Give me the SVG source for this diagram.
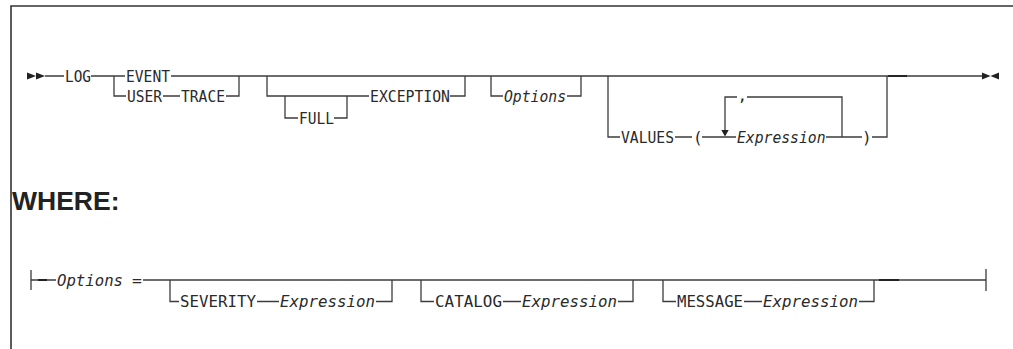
<svg xmlns="http://www.w3.org/2000/svg" width="1013" height="349" viewBox="0 0 1013 349">
<style>
.ln{stroke:#3c3c3c;stroke-width:1.3;fill:none}
.tk{stroke:#222;stroke-width:1.9;fill:none}
.ar{fill:#222;stroke:none}
.t{font-family:"DejaVu Sans Mono",monospace;font-size:16px;fill:#2a2a2a}
.t2{font-family:"DejaVu Sans Mono",monospace;font-size:16.5px;fill:#2a2a2a}
.i{font-style:italic}
.h{font-family:"Liberation Sans",Arial,sans-serif;font-weight:bold;font-size:26.5px;fill:#222}
</style>
<rect width="1013" height="349" fill="#fff"/>
<path d="M11,349 V6 H1013" fill="none" stroke="#333" stroke-width="1.6"/>
<g id="connectors">
  <polygon class="ar" points="27,72.5 36,76 27,79.5"/>
  <polygon class="ar" points="36,72.5 45,76 36,79.5"/>
  <path class="ln" d="M45,76 H64 M91,76 H125 M171,76 H982"/>
  <path class="ln" d="M114,76 V96 H126 M163,96 H180 M226,96 H239 V76"/>
  <path class="ln" d="M267,76 V96 H369 M285,96 V118 H298 M334,118 H347 V96 M450,96 H465 V76"/>
  <path class="ln" d="M491,76 V96 H503 M567,96 H581 V76"/>
  <path class="ln" d="M608,76 V137 H620 M675,137 H692 M702,137 H736 M826,137 H862 M872,137 H887 V76"/>
  <path class="ln" d="M725,130 V97 H737 M747,97 H842 V137"/>
  <polygon class="ar" points="721.3,130 728.7,130 725,136.5"/>
  <path class="tk" d="M888,76 H907"/>
  <polygon class="ar" points="982,72.5 990.5,76 982,79.5"/>
  <polygon class="ar" points="999,72.5 990.5,76 999,79.5"/>
  <path class="ln" d="M31,270 V290 M31,280 H56 M143,280 H986 M986,269 V291"/>
  <path class="tk" d="M38,280 H47 M879,280 H899"/>
  <path class="ln" d="M170,280 V301.5 H179 M257,301.5 H279 M376,301.5 H392 V280"/>
  <path class="ln" d="M421,280 V301.5 H434 M503,301.5 H521 M618,301.5 H633 V280"/>
  <path class="ln" d="M663,280 V301.5 H676 M744,301.5 H762 M859,301.5 H874 V280"/>
</g>
<g id="log"><text class="t" x="65" y="81.8" textLength="26" lengthAdjust="spacingAndGlyphs">LOG</text></g>
<g id="event"><text class="t" x="126" y="81.8" textLength="44" lengthAdjust="spacingAndGlyphs">EVENT</text></g>
<g id="user"><text class="t" x="127" y="101.8" textLength="35" lengthAdjust="spacingAndGlyphs">USER</text></g>
<g id="trace"><text class="t" x="181" y="101.8" textLength="44" lengthAdjust="spacingAndGlyphs">TRACE</text></g>
<g id="full"><text class="t" x="299" y="123.8" textLength="35" lengthAdjust="spacingAndGlyphs">FULL</text></g>
<g id="exception"><text class="t" x="370" y="101.8" textLength="80" lengthAdjust="spacingAndGlyphs">EXCEPTION</text></g>
<g id="options-ref"><text class="t i" x="504" y="101.8" textLength="62" lengthAdjust="spacingAndGlyphs">Options</text></g>
<g id="values"><text class="t" x="621" y="142.8" textLength="53" lengthAdjust="spacingAndGlyphs">VALUES</text></g>
<g id="lparen"><text class="t" x="693" y="142.8">(</text></g>
<g id="comma"><text class="t" x="737.5" y="101">,</text></g>
<g id="expression"><text class="t i" x="737" y="142.8" textLength="88.5" lengthAdjust="spacingAndGlyphs">Expression</text></g>
<g id="rparen"><text class="t" x="862" y="142.8">)</text></g>
<g id="where"><text class="h" x="12" y="210">WHERE:</text></g>
<g id="options-def"><text class="t2 i" x="57" y="286" textLength="66" lengthAdjust="spacingAndGlyphs">Options</text><text class="t2" x="132" y="286">=</text></g>
<g id="severity"><text class="t2" x="180" y="307.3" textLength="76" lengthAdjust="spacingAndGlyphs">SEVERITY</text><text class="t2 i" x="280" y="307.3" textLength="95" lengthAdjust="spacingAndGlyphs">Expression</text></g>
<g id="catalog"><text class="t2" x="435" y="307.3" textLength="67" lengthAdjust="spacingAndGlyphs">CATALOG</text><text class="t2 i" x="522" y="307.3" textLength="95" lengthAdjust="spacingAndGlyphs">Expression</text></g>
<g id="message"><text class="t2" x="677" y="307.3" textLength="66" lengthAdjust="spacingAndGlyphs">MESSAGE</text><text class="t2 i" x="763" y="307.3" textLength="95" lengthAdjust="spacingAndGlyphs">Expression</text></g>
</svg>
